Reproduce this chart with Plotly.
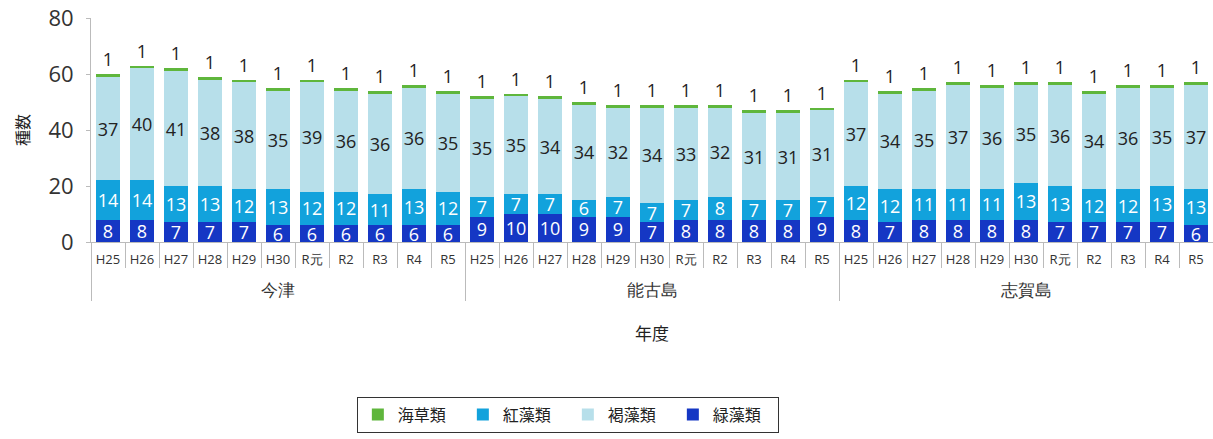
import plotly.graph_objects as go

sites = ["今津", "能古島", "志賀島"]
years = ["H25", "H26", "H27", "H28", "H29", "H30", "R元", "R2", "R3", "R4", "R5"]

green_algae = [8, 8, 7, 7, 7, 6, 6, 6, 6, 6, 6,
               9, 10, 10, 9, 9, 7, 8, 8, 8, 8, 9,
               8, 7, 8, 8, 8, 8, 7, 7, 7, 7, 6]
red_algae = [14, 14, 13, 13, 12, 13, 12, 12, 11, 13, 12,
             7, 7, 7, 6, 7, 7, 7, 8, 7, 7, 7,
             12, 12, 11, 11, 11, 13, 13, 12, 12, 13, 13]
brown_algae = [37, 40, 41, 38, 38, 35, 39, 36, 36, 36, 35,
               35, 35, 34, 34, 32, 34, 33, 32, 31, 31, 31,
               37, 34, 35, 37, 36, 35, 36, 34, 36, 35, 37]
seagrass = [1, 1, 1, 1, 1, 1, 1, 1, 1, 1, 1,
            1, 1, 1, 1, 1, 1, 1, 1, 1, 1, 1,
            1, 1, 1, 1, 1, 1, 1, 1, 1, 1, 1]

y_ticks = [0, 20, 40, 60, 80]

# group labels pushed down a line and enlarged, like the reference
site_lbl = ["<br><span style='font-size:17px'>%s</span>" % s for s in sites]
x_site = [s for s in site_lbl for _ in years]
x_year = [y for _ in sites for y in years]
x = [x_site, x_year]

FONT = "Noto Sans CJK JP"
NUMFONT = "Open Sans"
LBL = 18

fig = go.Figure()
series = [
    ("緑藻類", green_algae, "#1537c4", "white", "inside", 4),
    ("紅藻類", red_algae, "#12a2dc", "white", "inside", 2),
    ("褐藻類", brown_algae, "#b7dfea", "#222222", "inside", 3),
    ("海草類", seagrass, "#5fb63c", "#222222", "outside", 1),
]
for name, vals, col, tcol, tpos, rank in series:
    fig.add_trace(go.Bar(
        x=x, y=vals, name=name, marker=dict(color=col, line=dict(width=0)),
        text=[str(v) for v in vals], textposition=tpos,
        insidetextanchor="middle", textangle=0, constraintext="none",
        textfont=dict(color=tcol, size=LBL, family=NUMFONT),
        cliponaxis=False, legendrank=rank,
    ))

fig.update_layout(
    width=1213, height=439,
    barmode="stack", bargap=0.32,
    plot_bgcolor="white", paper_bgcolor="white",
    margin=dict(l=91, r=0, t=18, b=197),
    font=dict(family=FONT, color="#222222"),
    legend=dict(
        orientation="h", traceorder="normal",
        x=0.425, xanchor="center", y=-0.69, yanchor="top",
        bordercolor="#333333", borderwidth=1,
        font=dict(size=16, family=FONT),
        entrywidth=60, entrywidthmode="pixels",
        itemwidth=30,
    ),
    xaxis=dict(
        type="multicategory", automargin=False,
        showline=True, linecolor="#bbbbbb", linewidth=1,
        ticks="outside", ticklen=25, tickcolor="#bbbbbb",
        tickangle=0, ticklabelstandoff=5,
        tickfont=dict(size=13, family=NUMFONT, color="#333333"),
        showdividers=True, dividercolor="#bbbbbb", dividerwidth=1,
        title=dict(text="年度", font=dict(size=17, family=FONT), standoff=28),
    ),
    yaxis=dict(
        range=[0, 80], tickvals=y_ticks, showgrid=False, automargin=False,
        showline=True, linecolor="#bbbbbb", linewidth=1,
        ticks="outside", ticklen=4, tickcolor="#bbbbbb",
        ticklabelstandoff=8, ticklabeloverflow="allow",
        tickfont=dict(size=22, family=NUMFONT, color="#333333"),
        title=dict(text="種数", font=dict(size=16, family=FONT), standoff=14),
        zeroline=False,
    ),
)

# remove the browser's default 8px body margin so the figure fills the window
fig.write_html("out.html", config={"displayModeBar": False},
               post_script="document.body.style.margin='0';")
